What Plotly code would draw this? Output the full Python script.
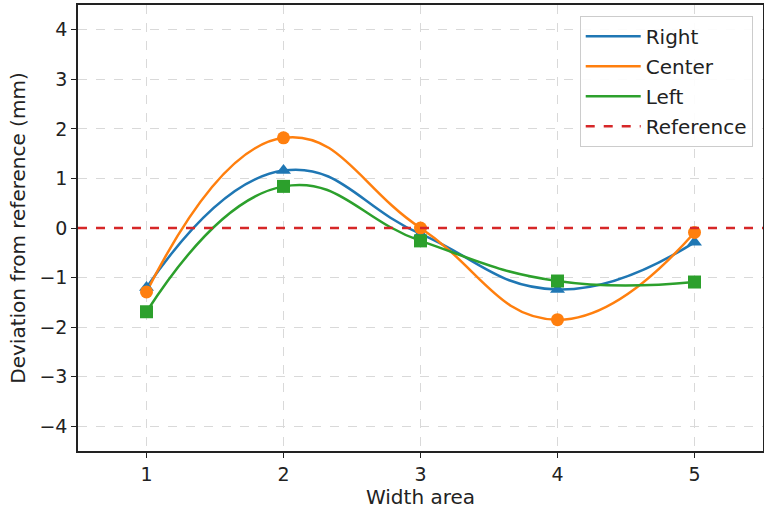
import plotly.graph_objects as go

areas = [1, 2, 3, 4, 5]
right = [-1.2, 1.16, -0.12, -1.24, -0.29]
center = [-1.29, 1.82, 0.0, -1.85, -0.09]
left = [-1.69, 0.84, -0.26, -1.07, -1.09]
reference_level = 0.0

x_ticks = [1, 2, 3, 4, 5]
y_ticks = [-4, -3, -2, -1, 0, 1, 2, 3, 4]

fig = go.Figure()

series = [
    ("Right", right, "#1f77b4", "triangle-up"),
    ("Center", center, "#ff7f0e", "circle"),
    ("Left", left, "#2ca02c", "square"),
]
for name, vals, color, sym in series:
    fig.add_trace(go.Scatter(
        x=areas, y=vals, mode="lines", name=name, legendgroup=name,
        line=dict(color=color, width=2.5, shape="spline", smoothing=1.3),
        showlegend=True,
    ))
for name, vals, color, sym in series:
    fig.add_trace(go.Scatter(
        x=areas, y=vals, mode="markers", name=name, legendgroup=name,
        marker=dict(color=color, symbol=sym, size=13),
        showlegend=False,
    ))

fig.add_trace(go.Scatter(
    x=[0.5, 5.5], y=[reference_level, reference_level], mode="lines", name="Reference",
    legendgroup="Reference",
    line=dict(color="#d62728", width=2.5, dash="dash"),
))

axis_common = dict(
    showline=True, linecolor="#222", linewidth=1.5, mirror=True,
    ticks="outside", ticklen=5, tickwidth=1.2, tickcolor="#222",
    showgrid=True, gridcolor="#d9d9d9", griddash="dash", gridwidth=1,
    zeroline=False, automargin=False,
    tickfont=dict(family="DejaVu Sans", size=19, color="#222"),
    title_font=dict(family="DejaVu Sans", size=20, color="#222"),
)

fig.update_layout(
    width=764, height=514,
    margin=dict(l=78, r=1, t=5, b=63),
    paper_bgcolor="white", plot_bgcolor="white",
    xaxis=dict(range=[0.5, 5.5], tickvals=x_ticks, title=dict(text="Width area", standoff=6), **axis_common),
    yaxis=dict(range=[-4.5, 4.5], tickvals=y_ticks, ticktext=[("\u2212" + str(-v)) if v < 0 else str(v) for v in y_ticks],
               title=dict(text="Deviation from reference (mm)", standoff=8), **axis_common),
    legend=dict(
        x=0.985, y=0.976, xanchor="right", yanchor="top",
        bgcolor="rgba(255,255,255,0.9)", bordercolor="#cccccc", borderwidth=1,
        font=dict(family="DejaVu Sans", size=20, color="#222"),
        tracegroupgap=1, itemwidth=55,
    ),
    showlegend=True,
)

fig.write_html("out.html", config={"displayModeBar": False},
               post_script="document.body.style.margin='0';document.body.style.overflow='hidden';")
